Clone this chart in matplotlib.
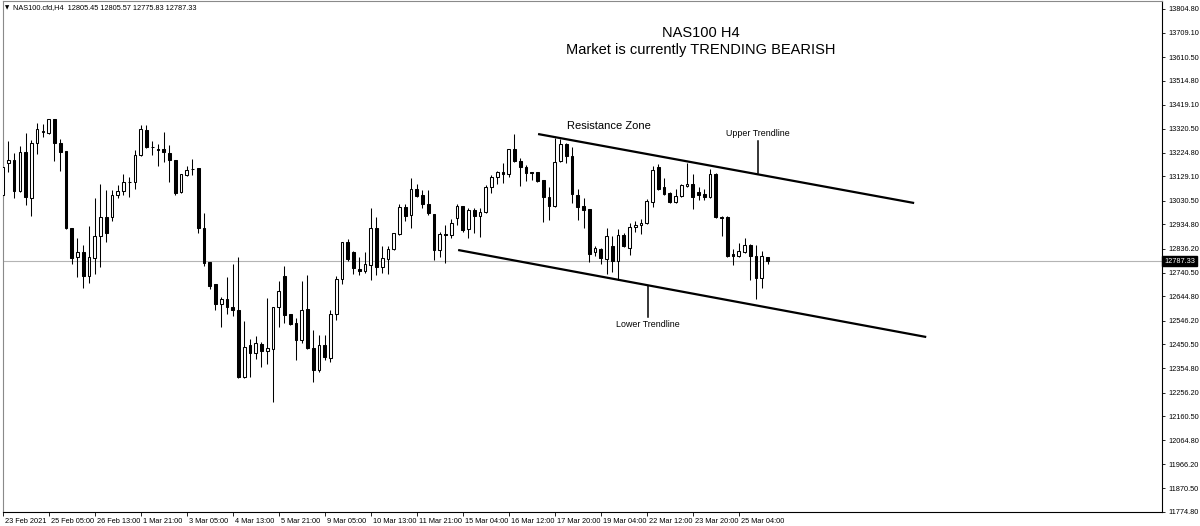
import matplotlib.pyplot as plt
import matplotlib.transforms as mtrans

# NAS100 H4 candles (134 bars)
opens = [13053.8, 13183.0, 13195.1, 13069.9, 13227.4, 13041.7, 13263.7, 13308.1, 13304.1, 13360.6,
         13263.7, 13231.4, 12920.6, 12803.5, 12823.7, 12726.8, 12799.5, 12888.3, 12965.0, 12965.0,
         13053.8, 13069.9, 13106.3, 13106.3, 13215.3, 13316.2, 13247.6, 13239.5, 13239.5, 13223.3,
         13195.1, 13065.9, 13134.5, 13158.7, 13162.8, 12920.6, 12783.3, 12694.5, 12613.8, 12634.0,
         12601.6, 12589.5, 12319.0, 12448.2, 12416.0, 12452.3, 12424.0, 12432.1, 12601.6, 12726.8,
         12573.4, 12537.0, 12468.4, 12593.6, 12436.1, 12347.3, 12448.2, 12395.8, 12573.4, 12714.7,
         12864.0, 12823.7, 12755.0, 12747.0, 12771.2, 12920.6, 12763.1, 12795.4, 12835.8, 12896.3,
         13005.3, 12973.0, 13078.0, 13053.8, 13017.5, 12977.1, 12831.8, 12896.3, 12892.3, 12960.9,
         13009.4, 12916.5, 12993.2, 12969.0, 12985.2, 13086.1, 13126.4, 13146.6, 13138.6, 13239.5,
         13191.0, 13166.8, 13146.6, 13146.6, 13114.3, 13045.7, 13009.4, 13191.0, 13259.7, 13211.2,
         13053.8, 13009.4, 12997.3, 12823.7, 12835.8, 12795.4, 12847.9, 12787.3, 12892.3, 12839.8,
         12924.6, 12932.7, 12940.7, 13025.5, 13166.8, 13086.1, 13061.9, 13025.5, 13049.7, 13090.1,
         13098.2, 13065.9, 13057.8, 13045.7, 13138.6, 12965.0, 12965.0, 12815.6, 12807.5, 12823.7,
         12851.9, 12807.5, 12718.7, 12805.45]
highs = [13267.7, 13271.8, 13223.3, 13251.6, 13304.1, 13275.8, 13344.4, 13340.4, 13362.0, 13362.0,
         13279.9, 13233.0, 12922.0, 12880.2, 12851.9, 12928.6, 13041.7, 13098.2, 13074.0, 13074.0,
         13094.2, 13138.6, 13126.4, 13235.4, 13336.4, 13336.4, 13271.8, 13259.7, 13308.1, 13255.6,
         13197.0, 13140.0, 13170.9, 13199.1, 13164.0, 12981.1, 12785.0, 12696.0, 12642.0, 12722.8,
         12775.2, 12803.5, 12545.1, 12472.5, 12484.6, 12460.3, 12638.0, 12603.0, 12706.6, 12767.2,
         12575.0, 12557.2, 12706.6, 12730.8, 12508.8, 12488.6, 12488.6, 12589.5, 12726.8, 12866.0,
         12876.2, 12826.0, 12803.5, 12823.7, 13001.3, 12965.0, 12847.9, 12847.9, 12902.0, 13017.5,
         13017.5, 13122.4, 13098.2, 13074.0, 13074.0, 12979.0, 12904.4, 12932.7, 12956.9, 13017.5,
         13011.0, 13001.3, 13001.3, 13001.3, 13094.2, 13134.5, 13150.7, 13183.0, 13241.0, 13300.0,
         13203.2, 13174.9, 13148.0, 13148.0, 13116.0, 13086.1, 13283.9, 13279.9, 13262.0, 13247.6,
         13078.0, 13041.7, 12999.0, 12847.9, 12839.8, 12920.6, 12888.3, 12916.5, 12900.4, 12940.7,
         12948.8, 12956.9, 13037.6, 13170.9, 13178.9, 13122.4, 13064.0, 13078.0, 13098.2, 13183.0,
         13138.6, 13086.1, 13078.0, 13158.7, 13142.6, 12969.0, 12969.0, 12835.8, 12860.0, 12880.2,
         12856.0, 12851.9, 12827.7, 12805.57]
lows = [13045.7, 13146.6, 13041.7, 13065.9, 13013.4, 12969.0, 13219.3, 13287.9, 13302.0, 13191.0,
        13150.7, 12916.5, 12775.2, 12722.8, 12678.4, 12698.5, 12734.9, 12763.1, 12864.0, 12948.8,
        13041.7, 13053.8, 13045.7, 13078.0, 13211.2, 13243.5, 13215.3, 13170.9, 13187.0, 13106.3,
        13053.8, 13061.9, 13132.0, 13134.5, 12900.4, 12767.2, 12674.3, 12589.5, 12520.9, 12573.4,
        12565.3, 12317.0, 12317.0, 12319.0, 12391.7, 12359.4, 12371.5, 12218.1, 12520.9, 12537.0,
        12529.0, 12387.7, 12456.3, 12432.1, 12298.9, 12339.2, 12387.7, 12379.6, 12549.2, 12694.5,
        12787.3, 12734.9, 12730.8, 12738.9, 12710.6, 12730.8, 12738.9, 12734.9, 12831.8, 12892.3,
        12948.8, 12920.6, 13045.7, 13001.3, 12973.0, 12791.4, 12803.5, 12779.3, 12880.2, 12932.7,
        12904.4, 12880.2, 12900.4, 12884.2, 12981.1, 13061.9, 13098.2, 13102.2, 13126.4, 13189.0,
        13090.1, 13110.3, 13114.3, 13108.0, 12944.8, 12952.9, 13007.0, 13187.0, 13183.0, 13021.5,
        12952.9, 12920.6, 12783.3, 12807.5, 12775.2, 12734.9, 12742.9, 12710.6, 12843.9, 12811.6,
        12904.4, 12896.3, 12936.7, 13005.3, 13076.0, 13053.8, 13021.5, 13021.5, 13045.7, 13088.0,
        12997.3, 13033.6, 13033.6, 13041.7, 12960.9, 12888.3, 12805.0, 12771.2, 12803.5, 12821.0,
        12710.6, 12634.0, 12678.4, 12775.83]
closes = [13166.8, 13195.1, 13069.9, 13227.4, 13045.7, 13263.7, 13320.2, 13312.2, 13360.6, 13263.7,
          13227.4, 12920.6, 12799.5, 12823.7, 12726.8, 12803.5, 12888.3, 12965.0, 12900.4, 13053.8,
          13069.9, 13106.3, 13108.3, 13215.3, 13320.2, 13247.6, 13249.6, 13237.5, 13227.4, 13195.1,
          13061.9, 13138.6, 13154.7, 13160.7, 12920.6, 12779.3, 12686.4, 12613.8, 12634.0, 12601.6,
          12589.5, 12319.0, 12440.2, 12416.0, 12456.3, 12424.0, 12436.1, 12601.6, 12666.3, 12569.3,
          12533.0, 12468.4, 12589.5, 12436.1, 12347.3, 12448.2, 12399.8, 12573.4, 12714.7, 12864.0,
          12795.4, 12759.1, 12747.0, 12775.2, 12920.6, 12763.1, 12799.5, 12835.8, 12900.4, 13005.3,
          12969.0, 13078.0, 13049.7, 13017.5, 12981.1, 12831.8, 12896.3, 12894.3, 12940.7, 13009.4,
          12912.5, 12993.2, 12969.0, 12985.2, 13086.1, 13126.4, 13146.6, 13138.6, 13239.5, 13191.0,
          13166.8, 13142.6, 13144.6, 13110.3, 13045.7, 13009.4, 13187.0, 13259.7, 13211.2, 13057.8,
          13005.3, 12993.2, 12815.6, 12839.8, 12799.5, 12888.3, 12787.3, 12892.3, 12847.9, 12924.6,
          12932.7, 12940.7, 13029.6, 13154.7, 13078.0, 13057.8, 13025.5, 13049.7, 13094.2, 13098.2,
          13045.7, 13053.8, 13045.7, 13138.6, 12965.0, 12963.0, 12807.5, 12807.5, 12827.7, 12851.9,
          12807.5, 12718.7, 12807.5, 12787.33]

date_labels = ['23 Feb 2021', '25 Feb 05:00', '26 Feb 13:00', '1 Mar 21:00', '3 Mar 05:00',
               '4 Mar 13:00', '5 Mar 21:00', '9 Mar 05:00', '10 Mar 13:00', '11 Mar 21:00',
               '15 Mar 04:00', '16 Mar 12:00', '17 Mar 20:00', '19 Mar 04:00', '22 Mar 12:00',
               '23 Mar 20:00', '25 Mar 04:00']
price_ticks = [13804.80, 13709.10, 13610.50, 13514.80, 13419.10, 13320.50, 13224.80, 13129.10,
               13030.50, 12934.80, 12836.20, 12740.50, 12644.80, 12546.20, 12450.50, 12354.80,
               12256.20, 12160.50, 12064.80, 11966.20, 11870.50, 11774.80]

# trendlines (bar index, price)
upper_line = [(93.1, 13300.0), (158.5, 13021.5)]
lower_line = [(79.2, 12831.8), (160.6, 12480.6)]

FONT = 'Liberation Sans'
W, H = 1200, 526
fig = plt.figure(figsize=(W / 100, H / 100), dpi=100)
# axes frame in pixels: x 2.5..1162, y 1..512
ax = fig.add_axes([2.5 / W, 1 - 512 / H, (1162 - 2.5) / W, 511 / H])

n = len(opens)
xs = list(range(n))

# wicks
ax.vlines(xs, lows, highs, color='black', linewidth=0.75, zorder=2)
# bodies
bottoms = [min(o, c) for o, c in zip(opens, closes)]
heights = [abs(c - o) for o, c in zip(opens, closes)]
colors = ['white' if c >= o else 'black' for o, c in zip(opens, closes)]
ax.bar(xs, heights, bottom=bottoms, width=0.45, color=colors,
       edgecolor='black', linewidth=0.75, zorder=3)

# current price line
last = closes[-1]
ax.axhline(last, color='#b4b4b4', linewidth=0.8, zorder=1)

# trend channel
for line in (upper_line, lower_line):
    ax.plot([line[0][0], line[1][0]], [line[0][1], line[1][1]],
            color='black', linewidth=1.6, zorder=4, solid_capstyle='butt')
ax.plot([131.4, 131.4], [13271.8, 13142.6], color='black', linewidth=1.1, zorder=4)
ax.plot([112.2, 112.2], [12686.4, 12561.3], color='black', linewidth=1.1, zorder=4)

ax.text(98.1, 13332.4, 'Resistance Zone', fontsize=8, family=FONT, ha='left', va='center')
ax.text(131.4, 13304.1, 'Upper Trendline', fontsize=6.4, family=FONT, ha='center', va='center')
ax.text(112.2, 12533.0, 'Lower Trendline', fontsize=6.4, family=FONT, ha='center', va='center')

# limits
ax.set_xlim(-0.035, 201.6)
ax.set_ylim(11774.2, 13837.0)

# x axis (dates) - every 8 bars, label left of tick
ax.set_xticks(xs[::8])
ax.set_xticklabels(date_labels, fontsize=5.3, family=FONT)
ax.tick_params(axis='x', direction='out', length=3, width=0.6, pad=1.5)
shift = mtrans.ScaledTranslation(1.5 / 72, 0, fig.dpi_scale_trans)
for lbl in ax.get_xticklabels():
    lbl.set_horizontalalignment('left')
    lbl.set_transform(lbl.get_transform() + shift)

# y axis on the right
ax.yaxis.tick_right()
ax.set_yticks(price_ticks)
ax.set_yticklabels(['%.2f' % p for p in price_ticks], fontsize=5.3, family=FONT)
ax.tick_params(axis='y', direction='out', length=2.5, width=0.6, pad=2)

for side in ['left', 'top']:
    ax.spines[side].set_color('#8a8a8a')
for side in ['right', 'bottom']:
    ax.spines[side].set_color('black')
for s in ax.spines.values():
    s.set_linewidth(0.8)

# price box on the axis
trans = mtrans.blended_transform_factory(ax.transAxes, ax.transData)
ax.text(1.002, last, '%.2f' % last, transform=trans, fontsize=5.3, family=FONT,
        color='white', ha='left', va='center', zorder=6, clip_on=False,
        bbox=dict(boxstyle='square,pad=0.25', facecolor='black', edgecolor='black'))

# header + title
fig.text(5 / W, 1 - 8 / H, '\u25bc', fontsize=4, family='DejaVu Sans', ha='left', va='center')
fig.text(13 / W, 1 - 8 / H, 'NAS100.cfd,H4  12805.45 12805.57 12775.83 12787.33',
         fontsize=5.3, family=FONT, ha='left', va='center')
fig.text(701 / W, 1 - 33 / H, 'NAS100 H4', fontsize=10.5, family=FONT, ha='center', va='center')
fig.text(701 / W, 1 - 50 / H, 'Market is currently TRENDING BEARISH', fontsize=10.5,
         family=FONT, ha='center', va='center')

fig.savefig('out.png', dpi=100)
